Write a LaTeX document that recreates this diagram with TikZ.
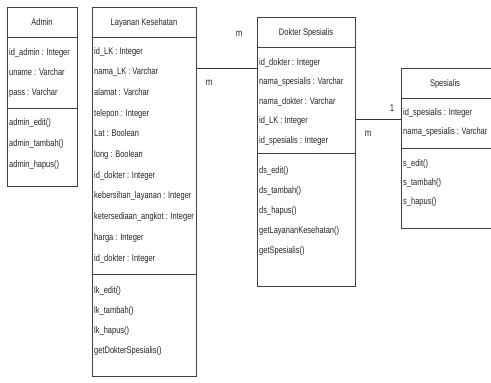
\documentclass[tikz,border=0pt]{standalone}
\usepackage{fontspec}
\setmainfont{Liberation Sans}[FakeStretch=0.78]
\begin{document}
\begin{tikzpicture}[x=1pt,y=-1pt,
  box/.style={draw=black!75, line width=0.9pt, fill=white, anchor=north west, inner sep=0pt},
  txt/.style={anchor=base west, inner sep=0pt, font=\fontsize{9.6}{10}\selectfont, text=black!85},
  ttl/.style={anchor=base, inner sep=0pt, font=\fontsize{9.6}{10}\selectfont, text=black!85},
  lbl/.style={anchor=base, inner sep=0pt, font=\fontsize{10}{10}\selectfont, text=black!85},
  sepline/.style={draw=black!75, line width=0.9pt},
  conn/.style={draw=black!80, line width=0.9pt}]
\useasboundingbox (0,0) rectangle (491,383);

% ---------- Admin ----------
\node[box, minimum width=70pt, minimum height=179pt] (admin) at (7,7) {};
\node[ttl] (adminT) at (42,25) {Admin};
\draw[sepline] (admin.west |- 0,37) -- (admin.east |- 0,37);
\draw[sepline] (admin.west |- 0,108) -- (admin.east |- 0,108);
\node[txt] (a1) at (9,55) {id\_admin : Integer};
\node[txt] (a2) at (9,75) {uname : Varchar};
\node[txt] (a3) at (9,95) {pass : Varchar};
\node[txt] (a4) at (9,125) {admin\_edit()};
\node[txt] (a5) at (9,146) {admin\_tambah()};
\node[txt] (a6) at (9,167) {admin\_hapus()};

% ---------- Layanan Kesehatan ----------
\node[box, minimum width=104pt, minimum height=369pt] (lk) at (92,7) {};
\node[ttl] (lkT) at (144,25) {Layanan Kesehatan};
\draw[sepline] (lk.west |- 0,37) -- (lk.east |- 0,37);
\draw[sepline] (lk.west |- 0,274) -- (lk.east |- 0,274);
\node[txt] (l1) at (94,54) {id\_LK : Integer};
\node[txt] (l2) at (94,74.7) {nama\_LK : Varchar};
\node[txt] (l3) at (94,95.4) {alamat : Varchar};
\node[txt] (l4) at (94,116.1) {telepon : Integer};
\node[txt] (l5) at (94,136.8) {Lat : Boolean};
\node[txt] (l6) at (94,157.5) {long : Boolean};
\node[txt] (l7) at (94,178.2) {id\_dokter : Integer};
\node[txt] (l8) at (94,198.9) {kebersihan\_layanan : Integer};
\node[txt] (l9) at (94,219.6) {ketersediaan\_angkot : Integer};
\node[txt] (l10) at (94,240.3) {harga : Integer};
\node[txt] (l11) at (94,261) {id\_dokter : Integer};
\node[txt] (l12) at (94,293) {lk\_edit()};
\node[txt] (l13) at (94,313) {lk\_tambah()};
\node[txt] (l14) at (94,333) {lk\_hapus()};
\node[txt] (l15) at (94,353) {getDokterSpesialis()};

% ---------- Dokter Spesialis ----------
\node[box, minimum width=98pt, minimum height=269pt] (ds) at (257,17) {};
\node[ttl] (dsT) at (306,35) {Dokter Spesialis};
\draw[sepline] (ds.west |- 0,47) -- (ds.east |- 0,47);
\draw[sepline] (ds.west |- 0,153) -- (ds.east |- 0,153);
\node[txt] (d1) at (259,65) {id\_dokter : Integer};
\node[txt] (d2) at (259,84.5) {nama\_spesialis : Varchar};
\node[txt] (d3) at (259,104) {nama\_dokter : Varchar};
\node[txt] (d4) at (259,123.5) {id\_LK : Integer};
\node[txt] (d5) at (259,143) {id\_spesialis : Integer};
\node[txt] (d6) at (259,173) {ds\_edit()};
\node[txt] (d7) at (259,193) {ds\_tambah()};
\node[txt] (d8) at (259,213) {ds\_hapus()};
\node[txt] (d9) at (259,233) {getLayananKesehatan()};
\node[txt] (d10) at (259,253) {getSpesialis()};

% ---------- Spesialis ----------
\node[box, minimum width=89.5pt, minimum height=160pt] (sp) at (401,68) {};
\node[ttl] (spT) at (445,86) {Spesialis};
\draw[sepline] (sp.west |- 0,98) -- (sp.east |- 0,98);
\draw[sepline] (sp.west |- 0,148) -- (sp.east |- 0,148);
\node[txt] (s1) at (403,115) {id\_spesialis : Integer};
\node[txt] (s2) at (403,134) {nama\_spesialis : Varchar};
\node[txt] (s3) at (403,166) {s\_edit()};
\node[txt] (s4) at (403,185) {s\_tambah()};
\node[txt] (s5) at (403,204) {s\_hapus()};

% ---------- connectors ----------
\draw[conn] (lk.east |- 0,68) -- (ds.west |- 0,68);
\node[lbl] (m1) at (209,85) {m};
\node[lbl] (m2) at (239,36) {m};
\draw[conn] (ds.east |- 0,119) -- (sp.west |- 0,119);
\node[lbl] (o1) at (392,111) {1};
\node[lbl] (m3) at (368,136) {m};
\end{tikzpicture}
\end{document}
